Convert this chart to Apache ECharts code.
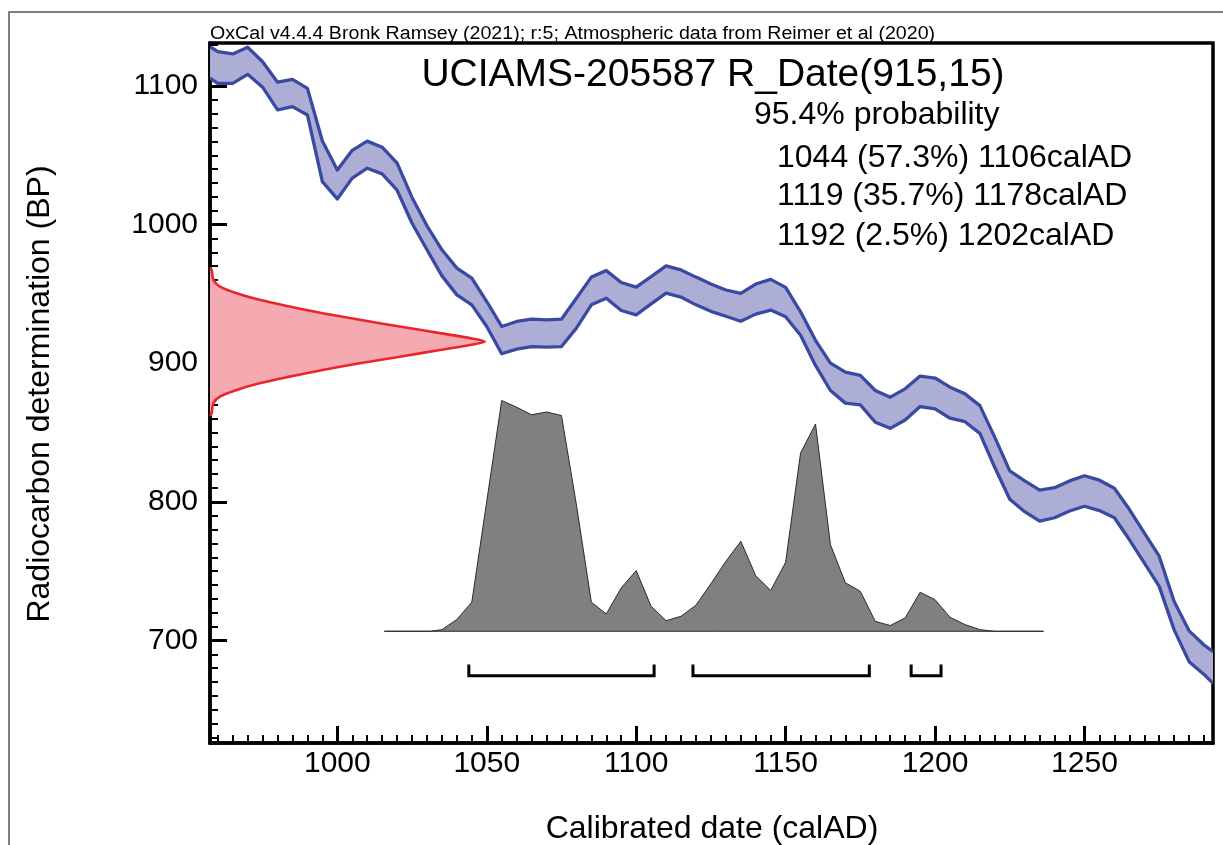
<!DOCTYPE html>
<html>
<head>
<meta charset="utf-8">
<script src="https://cdn.jsdelivr.net/npm/echarts@6/dist/echarts.min.js"></script>
<style>
html,body{margin:0;padding:0;background:#fff;}
#chart{width:1223px;height:845px;}
</style>
</head>
<body>
<div id="chart"></div>
<script>
// ---------- data ----------
const xMajorTicks = [1000, 1050, 1100, 1150, 1200, 1250];
const yMajorTicks = [700, 800, 900, 1000, 1100];

// Calibration curve band (calAD, upper BP, lower BP)
const bandYears = [957.4, 960, 965, 970, 975, 980, 985, 990, 995, 1000, 1005, 1010, 1015, 1020, 1025, 1030, 1035, 1040, 1045, 1050, 1055, 1060, 1065, 1070, 1075, 1080, 1085, 1090, 1095, 1100, 1105, 1110, 1115, 1120, 1125, 1130, 1135, 1140, 1145, 1150, 1155, 1160, 1165, 1170, 1175, 1180, 1185, 1190, 1195, 1200, 1205, 1210, 1215, 1220, 1225, 1230, 1235, 1240, 1245, 1250, 1255, 1260, 1265, 1270, 1275, 1280, 1285, 1290, 1293];
const bandUpper = [1128.3, 1124.7, 1123.1, 1127.9, 1117.5, 1102.7, 1104.8, 1098.3, 1060.3, 1039.4, 1053.6, 1060.2, 1055.8, 1044.3, 1019.6, 999.1, 981.8, 968.6, 961.4, 944.5, 926.5, 930.1, 931.8, 931.3, 931.8, 946.9, 962.1, 966.8, 958.2, 954.9, 962.5, 970.2, 967.3, 962.1, 957.2, 952.8, 950.3, 957.1, 960.5, 954.7, 937.1, 916.5, 900.1, 893.6, 891.2, 880.3, 875.5, 881.5, 890.7, 889.3, 882.7, 877.9, 869.4, 846.5, 822.3, 815.1, 808.4, 810.2, 815.1, 818.8, 815.6, 809.8, 794.6, 777.6, 760.8, 728.1, 706.9, 696.7, 691.9];
const bandLower = [1105.6, 1101.9, 1101.9, 1108.4, 1099.1, 1082.7, 1085.1, 1079.1, 1031.0, 1018.5, 1033.5, 1040.7, 1036.6, 1024.8, 1001.0, 981.8, 963.0, 949.3, 942.1, 926.5, 906.8, 910.2, 912.0, 911.6, 912.0, 925.3, 942.1, 946.9, 938.0, 934.9, 942.8, 950.5, 947.7, 942.1, 937.4, 933.9, 930.3, 935.4, 938.3, 933.5, 920.2, 898.4, 880.3, 871.2, 869.9, 857.4, 853.0, 859.0, 868.7, 867.0, 860.3, 857.8, 849.4, 824.7, 801.8, 792.9, 786.1, 788.5, 793.4, 796.8, 793.7, 788.5, 772.8, 755.9, 739.0, 707.6, 684.7, 675.5, 669.0];

// Radiocarbon measurement 915 +/- 15 BP (relative probability along BP)
const measBP = [968.8, 967.3, 960.1, 955.3, 950.5, 945.7, 940.9, 936.1, 931.3, 926.5, 921.7, 918.1, 915.6, 913.1, 909.5, 904.7, 899.9, 895.1, 890.3, 885.5, 880.7, 875.9, 871.1, 864.0, 862.0];
const measP  = [0, 0.006, 0.012, 0.036, 0.097, 0.18, 0.29, 0.41, 0.545, 0.69, 0.836, 0.945, 1.0, 0.945, 0.836, 0.69, 0.545, 0.41, 0.29, 0.18, 0.097, 0.036, 0.012, 0.006, 0];

// Calibrated date probability (relative)
const calYears = [1015.7, 1031, 1035, 1040, 1045, 1055, 1060, 1065, 1070, 1075, 1080, 1085, 1090, 1095, 1100, 1105, 1110, 1115, 1120, 1125, 1130, 1135, 1140, 1145, 1150, 1155, 1160, 1165, 1170, 1175, 1180, 1185, 1190, 1195, 1200, 1205, 1210, 1215, 1220, 1236.3];
const calP = [0, 0, 0.007, 0.051, 0.126, 1.0, 0.971, 0.938, 0.95, 0.935, 0.548, 0.126, 0.075, 0.188, 0.263, 0.108, 0.046, 0.065, 0.113, 0.206, 0.303, 0.39, 0.241, 0.177, 0.299, 0.772, 0.898, 0.375, 0.21, 0.173, 0.043, 0.025, 0.058, 0.169, 0.137, 0.061, 0.029, 0.007, 0, 0];

// 95.4% ranges
const rangeFrom = [1044, 1119, 1192];
const rangeTo   = [1106, 1178, 1202];

const creditText = 'OxCal v4.4.4 Bronk Ramsey (2021); r:5; Atmospheric data from Reimer et al (2020)';
const titleText = 'UCIAMS-205587 R_Date(915,15)';
const probLines = ['95.4% probability', '1044 (57.3%) 1106calAD', '1119 (35.7%) 1178calAD', '1192 (2.5%) 1202calAD'];
const xName = 'Calibrated date (calAD)';
const yName = 'Radiocarbon determination (BP)';

// ---------- layout constants ----------
const XMIN = 957.4, XMAX = 1293.0, YMIN = 626.0, YMAX = 1131.0;
const MEAS_W = 92;          // peak width of measurement curve (years)
const CAL_BASE = 706.6;     // baseline of calibrated distribution (BP units)
const CAL_H = 166.5;        // peak height (BP units)
const BR_Y = 674.6, BR_TOP = 682.6;
const FONT = '"Liberation Sans", Arial, Helvetica, sans-serif';

const xMinorTicks = [], yMinorTicks = [];
for (let v = 960; v <= 1290; v += 5) if (v % 50) xMinorTicks.push(v);
for (let v = 630; v <= 1130; v += 10) if (v % 100) yMinorTicks.push(v);

const chart = echarts.init(document.getElementById('chart'), null, {renderer: 'canvas'});

function bandRender(params, api) {
  const up = bandYears.map((x, i) => api.coord([x, bandUpper[i]]));
  const lo = bandYears.map((x, i) => api.coord([x, bandLower[i]]));
  const blue = '#3a4aa2';
  return {type: 'group', children: [
    {type: 'polygon', shape: {points: up.concat(lo.slice().reverse())}, style: {fill: '#adaed6', stroke: 'none'}},
    {type: 'polyline', shape: {points: up}, style: {stroke: blue, lineWidth: 3.3, fill: 'none', lineJoin: 'round'}},
    {type: 'polyline', shape: {points: lo}, style: {stroke: blue, lineWidth: 3.3, fill: 'none', lineJoin: 'round'}}
  ]};
}
function measRender(params, api) {
  const pts = measBP.map((b, i) => api.coord([XMIN + measP[i] * MEAS_W, b]));
  const fillPts = [api.coord([XMIN, measBP[0]])].concat(pts, [api.coord([XMIN, measBP[measBP.length - 1]])]);
  return {type: 'group', children: [
    {type: 'polygon', shape: {points: fillPts}, style: {fill: '#f5a9b0', stroke: 'none'}},
    {type: 'polyline', shape: {points: pts, smooth: 0.3}, style: {stroke: '#e8262b', lineWidth: 2.6, fill: 'none', lineJoin: 'round'}}
  ]};
}
function calRender(params, api) {
  const pts = calYears.map((x, i) => api.coord([x, CAL_BASE + calP[i] * CAL_H]));
  return {type: 'polygon', shape: {points: pts}, style: {fill: '#808080', stroke: '#2a2a2a', lineWidth: 1}};
}
function rangeRender(params, api) {
  const children = rangeFrom.map((a, i) => ({
    type: 'polyline',
    shape: {points: [api.coord([a, BR_TOP]), api.coord([a, BR_Y]), api.coord([rangeTo[i], BR_Y]), api.coord([rangeTo[i], BR_TOP])]},
    style: {stroke: '#000', lineWidth: 3, fill: 'none', lineJoin: 'miter'}
  }));
  return {type: 'group', children};
}

const plain = v => String(v);
const axisLineStyle = {color: '#000', width: 3.5};
function txt(text, x, y, size, align, extra) {
  return Object.assign({type: 'text', x: x, y: y, z: 10,
    style: {text: text, fontSize: size, fontFamily: FONT, fill: '#000', align: align, verticalAlign: 'middle'}}, extra || {});
}
const option = {
  animation: false,
  backgroundColor: '#fff',
  grid: {left: 210, top: 43, right: 10, bottom: 102, show: true, borderColor: '#000', borderWidth: 3.5, backgroundColor: 'transparent'},
  xAxis: [
    {type: 'value', min: XMIN, max: XMAX, position: 'bottom',
     axisLine: {show: true, lineStyle: axisLineStyle},
     axisTick: {show: true, inside: true, length: 17, customValues: xMajorTicks, lineStyle: {color: '#000', width: 3}},
     axisLabel: {show: true, customValues: xMajorTicks, formatter: plain, fontSize: 30, color: '#000', fontFamily: FONT, margin: 6},
     splitLine: {show: false}},
    {type: 'value', min: XMIN, max: XMAX, position: 'bottom',
     axisLine: {show: false},
     axisTick: {show: true, inside: true, length: 8, customValues: xMinorTicks, lineStyle: {color: '#000', width: 2}},
     axisLabel: {show: false}, splitLine: {show: false}}
  ],
  yAxis: [
    {type: 'value', min: YMIN, max: YMAX, position: 'left',
     axisLine: {show: true, lineStyle: axisLineStyle},
     axisTick: {show: true, inside: true, length: 17, customValues: yMajorTicks, lineStyle: {color: '#000', width: 3}},
     axisLabel: {show: true, customValues: yMajorTicks, formatter: plain, fontSize: 30, color: '#000', fontFamily: FONT, margin: 12},
     splitLine: {show: false}},
    {type: 'value', min: YMIN, max: YMAX, position: 'left',
     axisLine: {show: false},
     axisTick: {show: true, inside: true, length: 8, customValues: yMinorTicks, lineStyle: {color: '#000', width: 2}},
     axisLabel: {show: false}, splitLine: {show: false}}
  ],
  series: [
    {type: 'custom', renderItem: calRender, data: [[calYears[0], CAL_BASE]], xAxisIndex: 0, yAxisIndex: 0, silent: true, z: 2},
    {type: 'custom', renderItem: bandRender, data: [[bandYears[0], bandUpper[0]]], xAxisIndex: 0, yAxisIndex: 0, silent: true, clip: true, z: 3},
    {type: 'custom', renderItem: measRender, data: [[XMIN, measBP[0]]], xAxisIndex: 0, yAxisIndex: 0, silent: true, z: 4},
    {type: 'custom', renderItem: rangeRender, data: [[rangeFrom[0], BR_Y]], xAxisIndex: 0, yAxisIndex: 0, silent: true, z: 4}
  ],
  graphic: [
    {type: 'rect', z: 0, shape: {x: 9, y: 12, width: 1300, height: 900}, style: {fill: 'none', stroke: '#555', lineWidth: 1.5}},
    txt(creditText, 210, 34, 18, 'left', {scaleX: 1.09}),
    txt(titleText, 713, 75, 39, 'center'),
    txt(probLines[0], 754, 115, 32, 'left'),
    txt(probLines[1], 777, 158, 32, 'left'),
    txt(probLines[2], 777, 196.5, 32, 'left'),
    txt(probLines[3], 777, 236, 32, 'left'),
    txt(xName, 712, 829.5, 32, 'center'),
    txt(yName, 40, 394, 32, 'center', {rotation: Math.PI / 2})
  ]
};
chart.setOption(option);
</script>
</body>
</html>
